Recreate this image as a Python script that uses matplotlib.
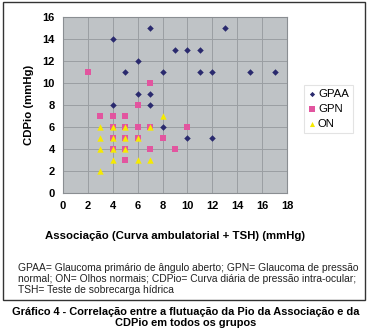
import matplotlib
matplotlib.use('Agg')
import matplotlib.pyplot as plt
from matplotlib.patches import Rectangle

plt.rcParams['font.family'] = ['Liberation Sans', 'DejaVu Sans']

# ============================================================
# DATA
# ============================================================
gpaa_x = [4, 7, 13, 6, 9, 10, 11, 5, 8, 11, 12, 15, 17, 6, 7, 4, 7, 8, 10, 12]
gpaa_y = [14, 15, 15, 12, 13, 13, 13, 11, 11, 11, 11, 11, 11, 9, 9, 8, 8, 6, 5, 5]

gpn_x = [2, 7, 6, 3, 4, 5, 4, 5, 6, 7, 10, 4, 5, 6, 8, 4, 5, 7, 9, 5]
gpn_y = [11, 10, 8, 7, 7, 7, 6, 6, 6, 6, 6, 5, 5, 5, 5, 4, 4, 4, 4, 3]

on_x = [8, 3, 4, 5, 7, 3, 4, 5, 6, 3, 4, 5, 4, 6, 7, 3]
on_y = [7, 6, 6, 6, 6, 5, 5, 5, 5, 4, 4, 4, 3, 3, 3, 2]

xticks = list(range(0, 19, 2))
yticks = list(range(0, 17, 2))

footnote = ("GPAA= Glaucoma primário de ângulo aberto; GPN= Glaucoma de pressão\n"
            "normal; ON= Olhos normais; CDPio= Curva diária de pressão intra-ocular;\n"
            "TSH= Teste de sobrecarga hídrica")
caption = ("Gráfico 4 - Correlação entre a flutuação da Pio da Associação e da\n"
           "CDPio em todos os grupos")

# ============================================================
# FIGURE
# ============================================================
W, H = 371, 332
fig = plt.figure(figsize=(W / 100, H / 100), dpi=100)

# outer frame
fig.patches.append(Rectangle((3 / W, 1 - 300 / H), 362 / W, 298 / H,
                             transform=fig.transFigure, fill=False,
                             edgecolor='#333333', linewidth=1.0))

ax = fig.add_axes([63 / W, 1 - 193 / H, 224 / W, 176 / H])
ax.set_facecolor('#bfc3c6')
ax.set_xlim(0, 18)
ax.set_ylim(0, 16)
ax.set_xticks(xticks)
ax.set_yticks(yticks)
ax.grid(True, color='#9a9ea2', linewidth=0.7)
ax.set_axisbelow(True)
for s in ax.spines.values():
    s.set_color('#8a8e92')
    s.set_linewidth(0.8)
ax.tick_params(length=0, pad=6, labelsize=8)
for lab in ax.get_xticklabels() + ax.get_yticklabels():
    lab.set_fontweight('bold')

ax.scatter(gpaa_x, gpaa_y, marker='D', s=11, color='#2a2a6e', label='GPAA',
           zorder=3, linewidths=0)
ax.scatter(gpn_x, gpn_y, marker='s', s=21, color='#e2559f', label='GPN',
           zorder=4, linewidths=0)
ax.scatter(on_x, on_y, marker='^', s=21, color='#f6ea00', label='ON',
           zorder=5, linewidths=0)

ax.set_xlabel('Associação (Curva ambulatorial + TSH) (mmHg)',
              fontsize=8.2, fontweight='bold', labelpad=14)
ax.set_ylabel('CDPio (mmHg)', fontsize=8.2, fontweight='bold', labelpad=6)

leg = ax.legend(loc='upper left', bbox_to_anchor=(298 / W, 1 - 79 / H),
                bbox_transform=fig.transFigure, fontsize=8.2,
                frameon=True, fancybox=False, handletextpad=0.1,
                handlelength=0.8, borderpad=0.35, labelspacing=0.45,
                markerscale=0.8)
leg.get_frame().set_edgecolor('#dddddd')
leg.get_frame().set_linewidth(0.8)

fig.text(18 / W, 1 - 263 / H, footnote, fontsize=7.4, va='top', ha='left',
         linespacing=1.1, color='#222222')
fig.text(0.5, 1 - 307 / H, caption, fontsize=7.9, fontweight='bold',
         va='top', ha='center', linespacing=1.08)

fig.savefig('out.png', dpi=100)
